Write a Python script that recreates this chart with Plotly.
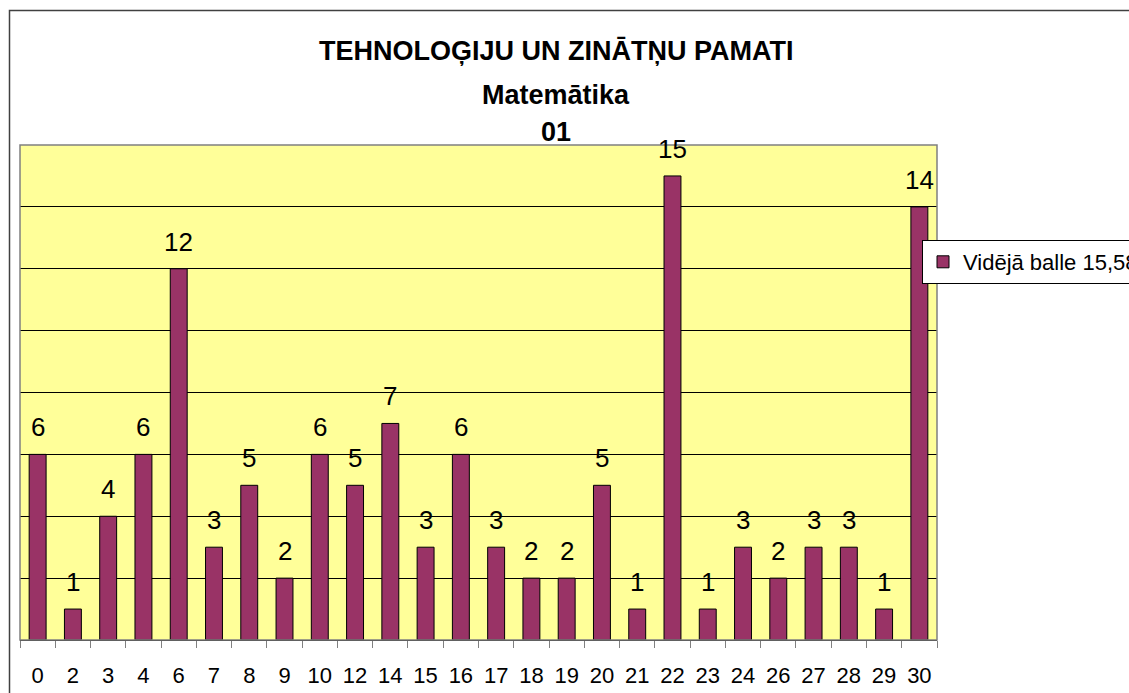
import plotly.graph_objects as go

categories = ["0", "2", "3", "4", "6", "7", "8", "9", "10", "12", "14", "15", "16",
              "17", "18", "19", "20", "21", "22", "23", "24", "26", "27", "28", "29", "30"]
counts = [6, 1, 4, 6, 12, 3, 5, 2, 6, 5, 7, 3, 6, 3, 2, 2, 5, 1, 15, 1, 3, 2, 3, 3, 1, 14]
series_name = "Vidējā balle 15,58"
title_lines = ["TEHNOLOĢIJU UN ZINĀTŅU PAMATI", "Matemātika", "01"]

W, H = 1129, 693
L, R, T, B = 20, 937, 145, 640  # plot area in pixels
FONT = "Liberation Sans, Arial, sans-serif"


def px_x(p):
    return (p - L) / (R - L)


def px_y(p):
    return (B - p) / (B - T)


fig = go.Figure()
fig.add_trace(go.Bar(
    x=categories, y=counts, name=series_name,
    marker=dict(color="#993366", line=dict(color="black", width=1)),
    showlegend=True, hoverinfo="x+y",
))

annotations = []
for i, v in enumerate(counts):
    annotations.append(dict(x=i, y=v, xref="x", yref="y", text=str(v), showarrow=False,
                            yanchor="bottom", yshift=10,
                            font=dict(family=FONT, size=26, color="black")))

title_baselines = [61, 105, 142]
for txt, bl in zip(title_lines, title_baselines):
    annotations.append(dict(x=px_x(556), y=px_y(bl + 7), xref="paper", yref="paper",
                            text="<b>" + txt + "</b>", showarrow=False,
                            xanchor="center", yanchor="bottom",
                            font=dict(family=FONT, size=27, color="black")))

shapes = [
    # outer chart frame (extends beyond visible area)
    dict(type="rect", xref="paper", yref="paper", x0=px_x(9.5), y0=-1, x1=2, y1=px_y(10.5),
         line=dict(color="#404040", width=1.5), layer="below"),
    # plot-area border
    dict(type="rect", xref="paper", yref="paper", x0=0, y0=0, x1=1, y1=1,
         line=dict(color="#808080", width=1.5), layer="above"),
]

fig.update_layout(
    width=W, height=H,
    margin=dict(l=L, r=W - R, t=T, b=H - B, pad=0, autoexpand=False),
    paper_bgcolor="white", plot_bgcolor="#FFFF99",
    font=dict(family=FONT, color="black"),
    bargap=0.52,
    annotations=annotations,
    shapes=shapes,
    legend=dict(x=px_x(922), y=px_y(240), xanchor="left", yanchor="top",
                bgcolor="white", bordercolor="black", borderwidth=1,
                font=dict(family=FONT, size=22, color="black")),
    xaxis=dict(type="category", showgrid=False, ticks="outside", ticklen=7, tickcolor="#808080",
               tickson="boundaries", showline=True, linecolor="black", linewidth=1,
               tickangle=0, tickfont=dict(family=FONT, size=22, color="black"),
               ticklabelstandoff=16, fixedrange=True),
    yaxis=dict(range=[0, 16], dtick=2, showgrid=True, gridcolor="black", gridwidth=1,
               showticklabels=False, zeroline=False, showline=False, ticks="",
               fixedrange=True),
)

fig.write_html(
    "out.html",
    config={"displayModeBar": False},
    post_script="document.body.style.margin='0';document.body.style.overflow='hidden';",
)
